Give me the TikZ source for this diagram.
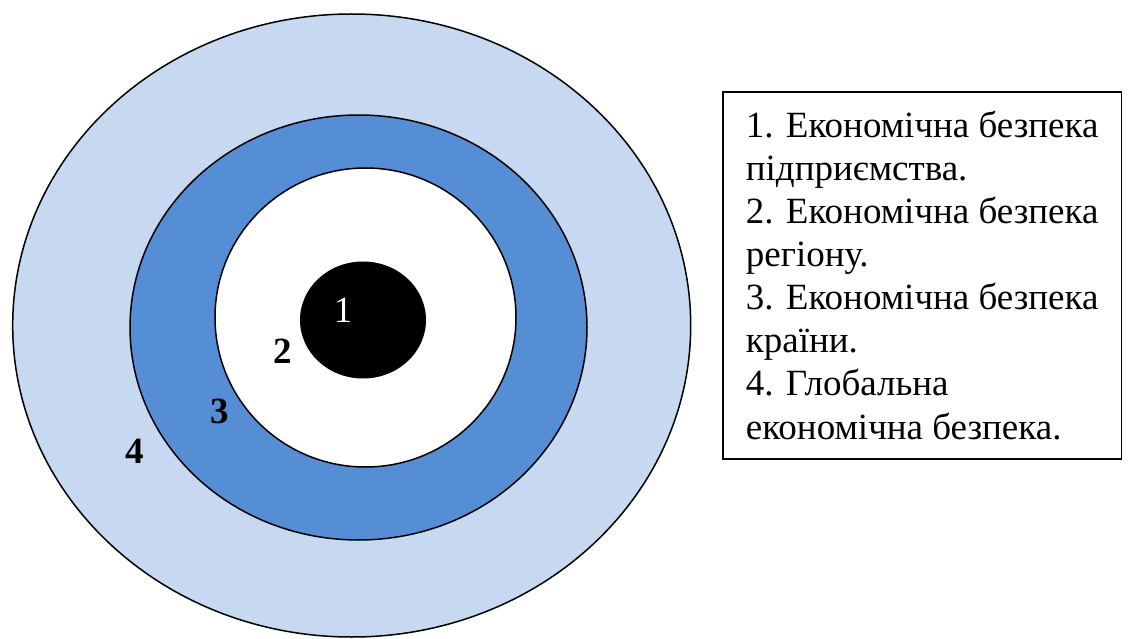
\documentclass[tikz,border=0pt]{standalone}
\usepackage{fontspec}
\setmainfont{Liberation Serif}
\usepackage{tikz}
\usetikzlibrary{positioning,calc}
\definecolor{ringlight}{HTML}{C6D9F1}
\definecolor{ringdark}{HTML}{558ED5}
\tikzset{
  ring/.style={draw=black, line width=1.5pt},
  ringnum/.style={font=\fontsize{37}{43}\selectfont\bfseries, inner sep=0pt},
  legendbox/.style={draw=black, line width=1.8pt, align=left, inner xsep=23pt, inner ysep=19pt,
    font=\fontsize{37}{43.1}\selectfont}
}

\begin{document}
\begin{tikzpicture}[x=1pt,y=-1pt]
\useasboundingbox (0,0) rectangle (1130,639);
%% Rings, outside in
\draw[ring, fill=ringlight] (351.7,325.5) ellipse [x radius=339pt, y radius=311.5pt];
\draw[ring, fill=ringdark] (358.5,327.5) ellipse [x radius=228.5pt, y radius=212.5pt];
\draw[ring, fill=white] (365.5,317.5) ellipse [x radius=150.5pt, y radius=149.5pt];
\fill[black] (363,320) ellipse [x radius=63pt, y radius=58.5pt];
%% Ring numbers
\node[ringnum, font=\fontsize{37}{43}\selectfont, text=white] (n1) at (343,310) {1};
\node[ringnum] (n2) at (283,351) {2};
\node[ringnum] (n3) at (220,411) {3};
\node[ringnum] (n4) at (135,451) {4};
%% Legend
\node[legendbox, anchor=north west] (legend) at (722,91)
  {1. Економічна безпека\\ підприємства.\\ 2. Економічна безпека\\ регіону.\\
   3. Економічна безпека\\ країни.\\ 4. Глобальна\\ економічна безпека.};
\end{tikzpicture}
\end{document}
